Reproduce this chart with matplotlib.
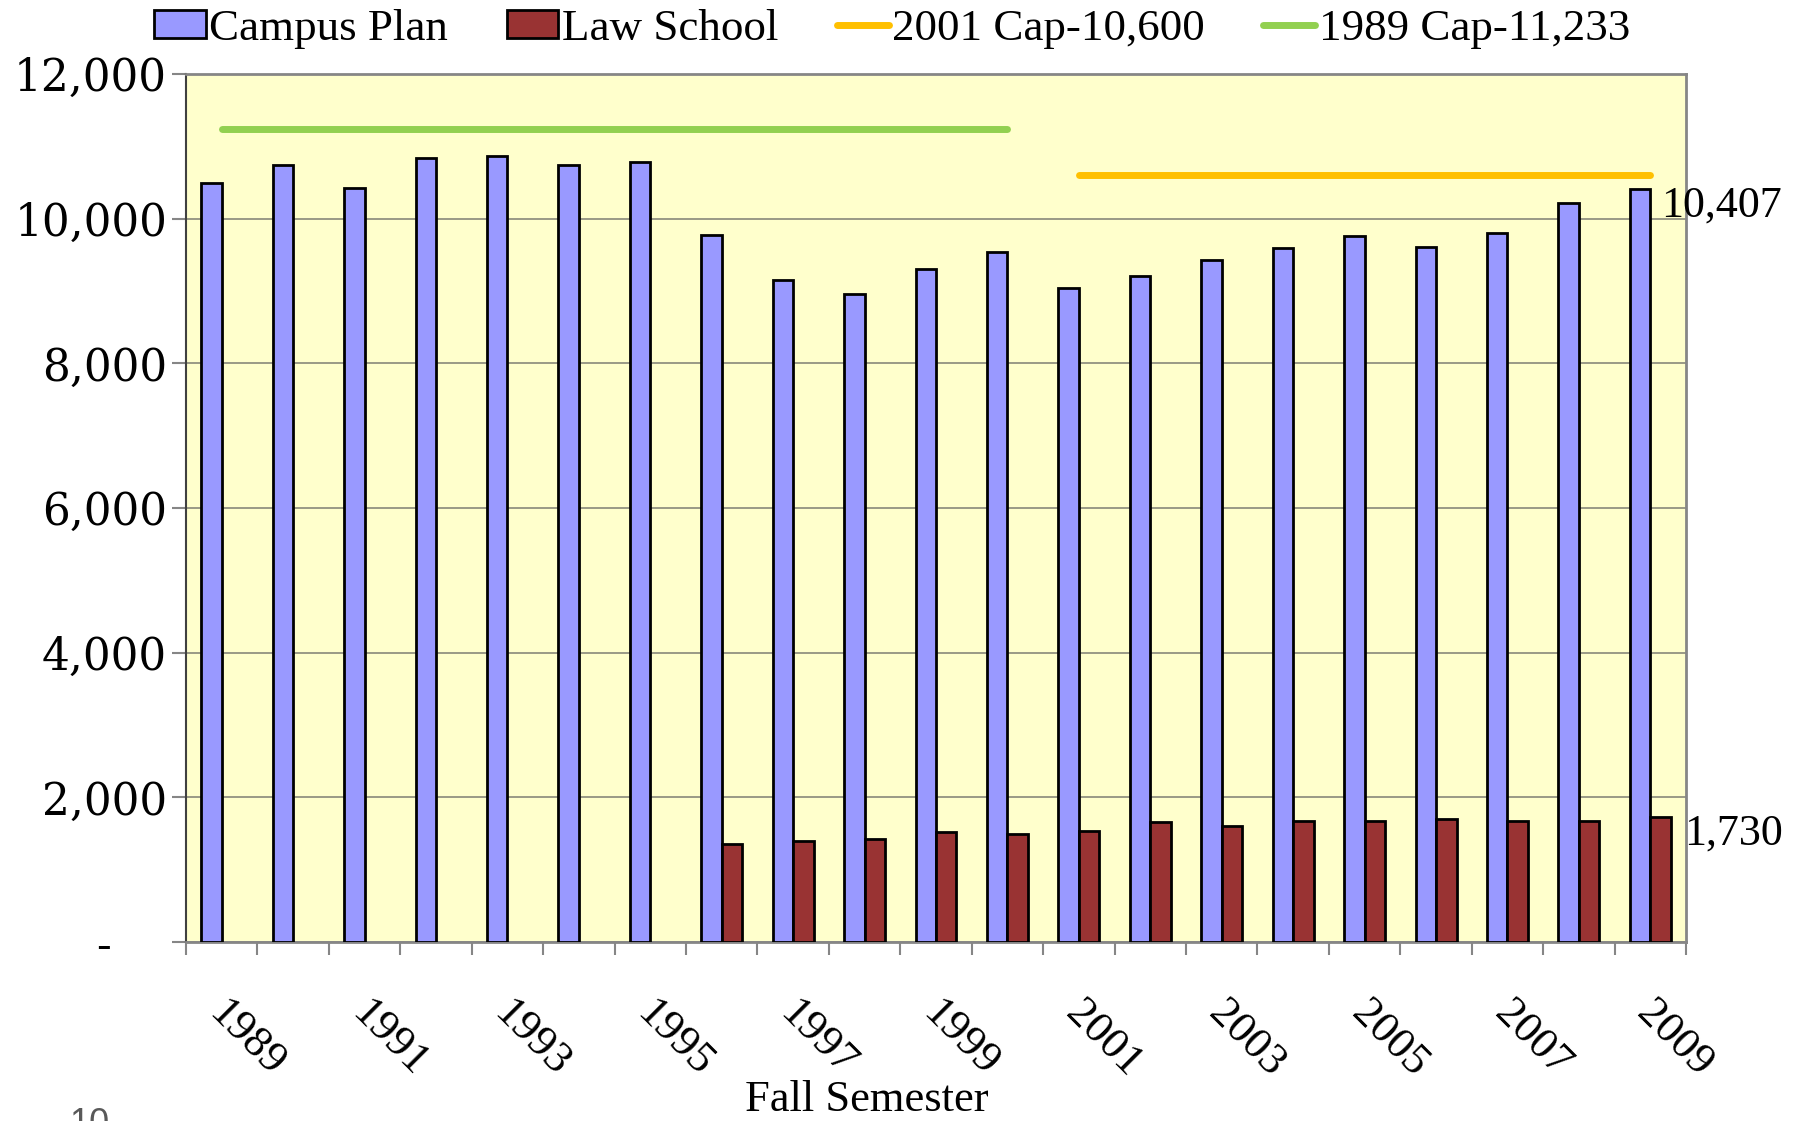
import matplotlib
matplotlib.use('Agg')
import matplotlib.pyplot as plt
import numpy as np
from matplotlib.transforms import ScaledTranslation
from matplotlib.patches import Patch
from matplotlib.lines import Line2D

# ---------------- data ----------------
years = list(range(1989, 2010))
campus_plan = [10494, 10747, 10419, 10844, 10871, 10743, 10779, 9779, 9147, 8953,
               9308, 9534, 9046, 9212, 9433, 9599, 9761, 9613, 9802, 10213, 10407]
law_years = list(range(1996, 2010))
law_school = [1355, 1401, 1429, 1517, 1494, 1535, 1656, 1600, 1678, 1674, 1706,
              1674, 1674, 1730]
cap_1989_years = list(range(1989, 2001))
cap_1989_value = 11233
cap_2001_years = list(range(2001, 2010))
cap_2001_value = 10600
ytick_values = [0, 2000, 4000, 6000, 8000, 10000, 12000]
ytick_labels = ["-", "2,000", "4,000", "6,000", "8,000", "10,000", "12,000"]
xtick_label_years = [1989, 1991, 1993, 1995, 1997, 1999, 2001, 2003, 2005, 2007, 2009]
series_names = ["Campus Plan", "Law School", "2001 Cap-10,600", "1989 Cap-11,233"]

plt.rcParams['font.family'] = ['Liberation Serif', 'DejaVu Serif']

W, H = 1804, 1121
fig = plt.figure(figsize=(W / 100, H / 100), dpi=100)
ax = fig.add_axes([186 / W, (H - 942) / H, 1500 / W, 868 / H])
ax.set_facecolor('#FFFFCC')

pos = {yr: i for i, yr in enumerate(years)}
x = np.arange(len(years))
bw = 0.287

ax.bar(x - bw / 2, campus_plan, bw, color='#9999FF', edgecolor='black',
       linewidth=2.0, zorder=3)
lx = np.array([pos[y] for y in law_years])
ax.bar(lx + bw / 2, law_school, bw, color='#993333', edgecolor='black',
       linewidth=2.0, zorder=3)

ax.plot([pos[y] for y in cap_1989_years], [cap_1989_value] * len(cap_1989_years),
        color='#92D050', lw=5, solid_capstyle='round', zorder=4)
ax.plot([pos[y] for y in cap_2001_years], [cap_2001_value] * len(cap_2001_years),
        color='#FFC000', lw=5, solid_capstyle='round', zorder=4)

ax.set_xlim(-0.5, len(years) - 0.5)
ax.set_ylim(0, 12000)

# grid
ax.yaxis.grid(True, color='#9a9a86', lw=1.4, zorder=1)
ax.set_axisbelow(True)

# spines
for s in ['top', 'right', 'bottom']:
    ax.spines[s].set_color('#868686')
    ax.spines[s].set_linewidth(2)
ax.spines['left'].set_color('#404040')
ax.spines['left'].set_linewidth(1.5)

# x ticks at category boundaries
ax.set_xticks(np.arange(-0.5, len(years), 1.0))
ax.set_xticklabels([])
ax.tick_params(axis='x', length=9.4, width=1.5, color='#868686')

# y ticks
labels = [l if v != 0 else l + "    " for v, l in zip(ytick_values, ytick_labels)]
ax.set_yticks(ytick_values)
ax.set_yticklabels(labels, fontfamily='DejaVu Serif', fontsize=31.5)
ax.tick_params(axis='y', length=10, width=1.5, color='#868686', pad=3.6)

# rotated year labels
off = ScaledTranslation(0.07, -0.51, fig.dpi_scale_trans)
for yr in xtick_label_years:
    ax.text(pos[yr], 0, str(yr), transform=ax.get_xaxis_transform() + off,
            rotation=-45, rotation_mode='anchor', ha='left', va='top',
            fontsize=32)

# end-value annotations
ax.annotate(f"{campus_plan[-1]:,}", xy=(pos[years[-1]] - bw / 2, campus_plan[-1]),
            xytext=(15, -20), textcoords='offset points', ha='left',
            va='baseline', fontsize=31.7, annotation_clip=False, zorder=5)
ax.annotate(f"{law_school[-1]:,}", xy=(pos[law_years[-1]] + bw / 2, law_school[-1]),
            xytext=(17, -20), textcoords='offset points', ha='left',
            va='baseline', fontsize=31.7, annotation_clip=False, zorder=5)

# x label
ax.set_xlabel("Fall Semester", fontsize=32)
ax.xaxis.set_label_coords((867 - 186) / 1500, -(1111 - 942) / 868)
ax.xaxis.label.set_va('baseline')

# legend
handles = [Patch(facecolor='#9999FF', edgecolor='black', linewidth=2.0),
           Patch(facecolor='#993333', edgecolor='black', linewidth=2.0),
           Line2D([], [], color='#FFC000', lw=5, solid_capstyle='round'),
           Line2D([], [], color='#92D050', lw=5, solid_capstyle='round')]
fig.legend(handles, series_names, loc='center',
           bbox_to_anchor=(892 / W, 1 - 29 / H), ncol=4, frameon=False,
           fontsize=32.4, handlelength=1.15, handleheight=0.6,
           handletextpad=0.08, columnspacing=1.3, borderpad=0,
           borderaxespad=0)

# slide number (cut at bottom edge, as in the reference)
fig.text(69 / W, (H - 1107) / H, "10", ha='left', va='top', fontsize=26,
         color='#595959', family='Liberation Sans')

fig.savefig('out.png', dpi=100)
